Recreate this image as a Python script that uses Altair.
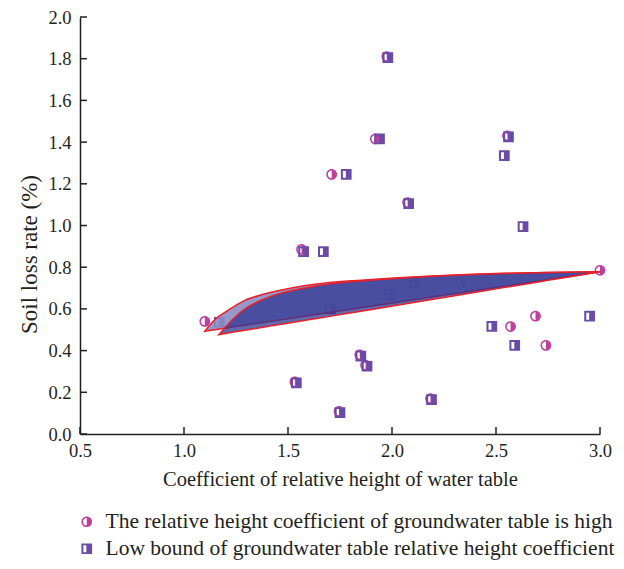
import altair as alt
import pandas as pd

HIGH = "The relative height coefficient of groundwater table is high"
LOW = "Low bound of groundwater table relative height coefficient"

# circles (high series)
high_x = [1.975, 2.555, 2.075, 1.565, 1.845, 1.873, 1.533, 2.185, 1.745, 1.985,
          1.10, 1.71, 1.92, 2.33, 2.57, 2.69, 2.74, 3.00]
high_y = [1.81, 1.43, 1.11, 0.885, 0.38, 0.33, 0.25, 0.17, 0.108, 0.67,
          0.54, 1.245, 1.415, 0.725, 0.515, 0.565, 0.425, 0.785]

# squares (low bound series)
low_x = [1.98, 2.56, 1.94, 2.54, 1.78, 2.08, 2.63, 1.575, 1.67, 1.17, 1.705,
         1.99, 2.11, 2.48, 2.95, 2.59, 1.85, 1.88, 1.54, 2.19, 1.75]
low_y = [1.805, 1.425, 1.415, 1.335, 1.245, 1.105, 0.995, 0.875, 0.875, 0.536, 0.60,
         0.667, 0.726, 0.516, 0.565, 0.425, 0.374, 0.325, 0.245, 0.165, 0.103]

# band 1 (lighter, outer)
band1_x = [1.10, 1.15, 1.21, 1.29, 1.37, 1.45, 1.53, 1.61, 1.69, 1.85, 2.01, 2.17, 2.33, 2.50, 2.75, 3.00]
band1_upper = [0.493, 0.55, 0.592, 0.640, 0.667, 0.687, 0.703, 0.716, 0.726, 0.738, 0.748, 0.756, 0.764, 0.770, 0.775, 0.778]
band1_lower = [0.493, 0.500, 0.510, 0.522, 0.534, 0.546, 0.558, 0.570, 0.582, 0.606, 0.630, 0.654, 0.678, 0.703, 0.741, 0.778]

# band 2 (darker, inner)
band2_x = [1.168, 1.245, 1.293, 1.374, 1.453, 1.534, 1.614, 1.694, 1.85, 2.01, 2.17, 2.33, 2.50, 2.75, 3.00]
band2_upper = [0.477, 0.56, 0.60, 0.643, 0.672, 0.691, 0.706, 0.719, 0.734, 0.746, 0.755, 0.763, 0.769, 0.775, 0.778]
band2_lower = [0.477, 0.490, 0.498, 0.511, 0.524, 0.537, 0.550, 0.563, 0.589, 0.615, 0.642, 0.668, 0.696, 0.737, 0.778]

x_ticks = [0.5, 1.0, 1.5, 2.0, 2.5, 3.0]
y_ticks = [0.0, 0.2, 0.4, 0.6, 0.8, 1.0, 1.2, 1.4, 1.6, 1.8, 2.0]

W, H = 520, 417
FONT = "Liberation Serif"
TXT = "#231f20"

circle_path = "M0,-1A1,1,0,0,1,0,1A1,1,0,0,1,0,-1ZM0,-0.72A0.72,0.72,0,0,0,0,0.72Z"
square_path = "M-1,-1L1,-1L1,1L-1,1ZM-0.62,-0.64L-0.62,0.64L-0.08,0.64L-0.08,-0.64Z"

xs = alt.Scale(domain=[0.5, 3.0], nice=False, zero=False)
ys = alt.Scale(domain=[0.0, 2.0], nice=False, zero=False)
xaxis = alt.Axis(values=x_ticks, format=".1f", title="Coefficient of relative height of water table",
                 titlePadding=10, labelPadding=7, labelFlush=False, titleFontSize=20.5)
yaxis = alt.Axis(values=y_ticks, format=".1f", title="Soil loss rate (%)",
                 titlePadding=6, labelPadding=9, labelFlush=False, titleFontSize=23, titleY=237)

def X(f="x"):
    return alt.X(f"{f}:Q", scale=xs, axis=xaxis)

def Y(f="y"):
    return alt.Y(f"{f}:Q", scale=ys, axis=yaxis)

pts = pd.DataFrame({
    "x": high_x + low_x,
    "y": high_y + low_y,
    "series": [HIGH] * len(high_x) + [LOW] * len(low_x),
})

legend = alt.Legend(title=None, orient="none", legendX=-4, legendY=494, direction="vertical",
                    labelFont=FONT, labelFontSize=21.5, labelColor=TXT, symbolSize=115,
                    symbolStrokeWidth=0, labelOffset=8, rowPadding=4, labelLimit=700)

points = alt.Chart(pts).mark_point(filled=True, opacity=1, strokeWidth=0, size=115).encode(
    x=X(), y=Y(),
    color=alt.Color("series:N", scale=alt.Scale(domain=[HIGH, LOW], range=["#bf3f9c", "#6a4ca8"]), legend=legend),
    shape=alt.Shape("series:N", scale=alt.Scale(domain=[HIGH, LOW], range=[circle_path, square_path]), legend=legend),
)

b1 = pd.DataFrame({"x": band1_x, "y": band1_upper, "y2": band1_lower})
b2 = pd.DataFrame({"x": band2_x, "y": band2_upper, "y2": band2_lower})

area1 = alt.Chart(b1).mark_area(fill="#8c8cc3", fillOpacity=0.9, stroke="#e8202a", strokeWidth=1.5,
                                interpolate="monotone").encode(x=X(), y=Y(), y2="y2:Q")
area2 = alt.Chart(b2).mark_area(fill="#2f3691", fillOpacity=0.75, stroke="#e8202a", strokeWidth=1.5,
                                interpolate="monotone").encode(x=X(), y=Y(), y2="y2:Q")

xt = alt.Chart(pd.DataFrame({"x": x_ticks})).mark_rule(color=TXT, strokeWidth=1.5).encode(
    x=X(), y=alt.value(H), y2=alt.value(H - 7))
yt = alt.Chart(pd.DataFrame({"y": y_ticks})).mark_rule(color=TXT, strokeWidth=1.5).encode(
    y=Y(), x=alt.value(0), x2=alt.value(7))

chart = alt.layer(points, area1, area2, xt, yt).properties(
    width=W, height=H,
    autosize=alt.AutoSizeParams(type="none"),
    padding={"left": 72, "top": 9, "right": 16, "bottom": 127},
    background="white",
).configure_view(stroke=None).configure_axis(
    grid=False, ticks=False, domainColor=TXT, domainWidth=1.5,
    labelFont=FONT, labelFontSize=18.5, labelColor=TXT,
    titleFont=FONT, titleFontWeight="normal", titleColor=TXT,
)

chart.save("out.html", embed_options={"renderer": "svg", "actions": False})
